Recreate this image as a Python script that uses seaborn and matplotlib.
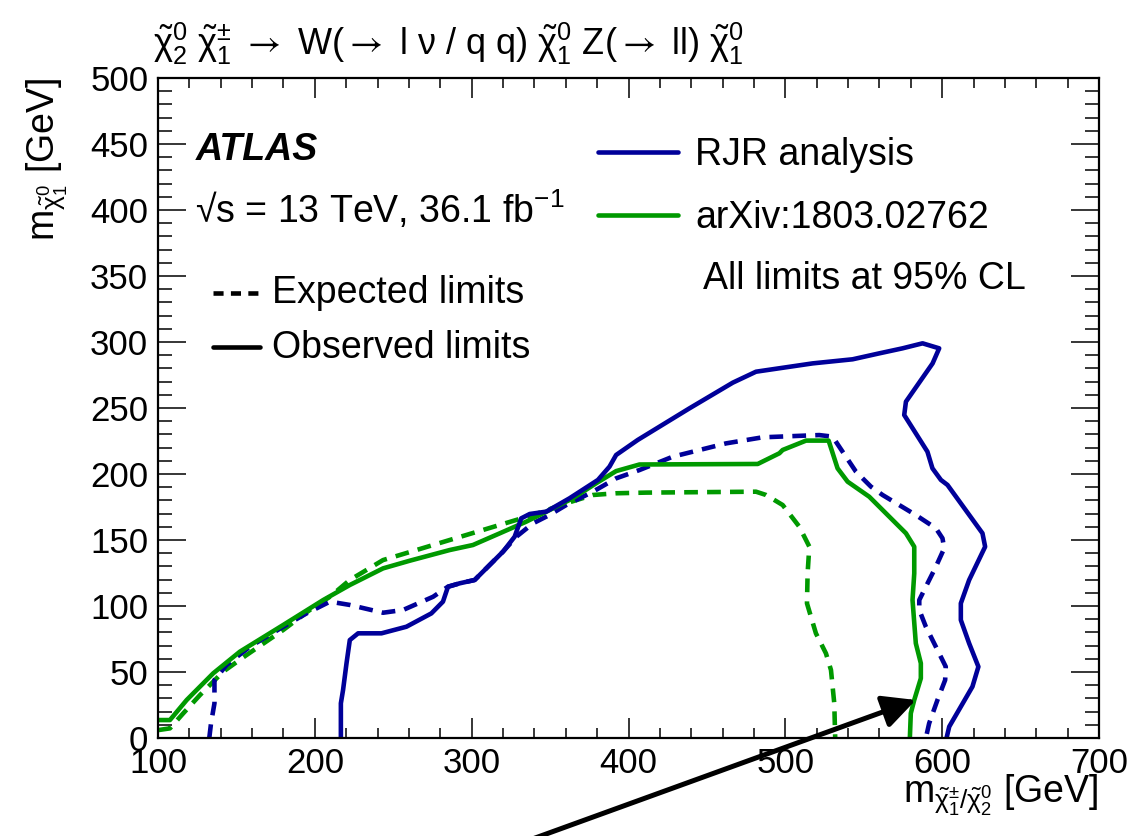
import matplotlib
matplotlib.use("Agg")
import matplotlib.pyplot as plt
from matplotlib.lines import Line2D
from matplotlib.ticker import MultipleLocator
import seaborn as sns

# ---------------- data ----------------
rjr_obs_x = [216.6, 216.6, 218.0, 220.2, 222.3, 227.6, 242.5, 258.4, 274.3, 281.7, 284.9, 292.4,
             301.9, 309.3, 320.0, 327.4, 331.6, 337.0, 347.6, 362.4, 380.5, 387.9, 392.1, 405.9,
             438.8, 466.5, 481.3, 517.4, 542.9, 559.9, 574.7, 587.5, 598.1, 593.9, 576.9, 575.8,
             590.6, 593.8, 599.2, 603.4, 625.7, 627.4, 617.2, 611.9, 611.9, 617.2, 623.1, 619.3,
             604.5, 602.8]
rjr_obs_y = [0.0, 26.3, 36.4, 56.6, 74.2, 79.3, 79.3, 84.3, 94.4, 103.3, 114.6, 117.2,
             119.7, 128.5, 141.2, 152.5, 166.4, 169.7, 171.5, 181.6, 195.5, 205.6, 214.4, 225.8,
             249.7, 269.2, 277.5, 283.8, 286.9, 291.4, 295.2, 299.0, 295.2, 283.8, 254.8, 244.7,
             216.9, 204.3, 195.5, 191.7, 155.1, 144.9, 119.7, 102.0, 89.4, 71.7, 54.0, 38.9,
             8.6, 0.0]

rjr_exp_x = [132.7, 133.8, 136.0, 136.0, 143.7, 158.6, 179.8, 194.7, 209.6, 222.3, 243.5, 256.3,
             275.4, 281.7, 284.9, 292.4, 301.9, 309.3, 320.0, 328.5, 339.1, 349.7, 360.3, 377.3,
             392.1, 407.0, 428.2, 462.2, 485.5, 521.6, 530.1, 536.5, 545.0, 554.6, 562.0, 572.6,
             583.2, 596.0, 600.2, 601.3, 596.0, 589.6, 585.4, 585.4, 589.6, 597.0, 602.3, 601.9,
             597.0, 591.7, 589.6]
rjr_exp_y = [0.0, 11.1, 26.3, 43.9, 55.3, 69.2, 84.3, 94.4, 103.3, 100.8, 94.9, 97.0,
             107.0, 112.1, 114.6, 117.2, 119.7, 128.5, 141.2, 152.5, 162.6, 169.0, 176.5, 186.6,
             196.7, 203.0, 213.1, 223.2, 227.8, 229.5, 228.3, 216.9, 201.8, 190.4, 184.1, 176.5,
             168.9, 158.9, 151.3, 143.7, 129.8, 114.6, 104.5, 97.0, 84.3, 66.7, 54.0, 43.9,
             28.8, 11.1, 0.0]

arx_obs_x = [100.2, 107.6, 118.3, 135.2, 152.2, 179.8, 205.3, 222.3, 243.5, 260.5, 286.0, 300.8,
             317.8, 334.8, 349.7, 364.5, 379.4, 392.1, 407.0, 482.4, 496.2, 498.3, 513.2, 527.6,
             533.3, 539.7, 553.5, 576.9, 582.2, 582.2, 581.1, 583.2, 586.4, 586.4, 582.2, 580.0,
             579.4]
arx_obs_y = [13.6, 13.6, 28.8, 49.0, 65.4, 85.6, 104.5, 115.9, 128.5, 134.3, 142.4, 146.2,
             155.0, 163.9, 172.7, 181.6, 193.0, 202.2, 207.2, 207.6, 215.7, 218.2, 225.3, 225.3,
             204.3, 194.2, 182.8, 155.1, 144.9, 124.7, 104.5, 71.7, 56.6, 45.2, 28.8, 18.7,
             0.0]

arx_exp_x = [100.2, 107.6, 116.1, 126.8, 141.6, 156.5, 179.8, 196.8, 209.6, 222.3, 243.5, 264.8,
             296.6, 328.5, 339.1, 360.3, 377.3, 392.1, 411.3, 481.3, 487.7, 498.3, 508.9, 515.3,
             514.2, 513.8, 519.5, 525.9, 529.1, 531.2, 531.8]
arx_exp_y = [6.0, 7.3, 18.7, 32.6, 50.3, 62.9, 81.8, 97.0, 107.0, 119.7, 134.8, 142.4,
             153.8, 165.2, 168.9, 177.8, 184.1, 185.4, 185.9, 186.6, 184.1, 176.5, 160.1, 145.0,
             124.7, 102.0, 79.3, 64.1, 51.5, 26.3, 0.0]

arrow_tip = (583.2, 28.8)
arrow_tail = (336.9, -77.3)

x_ticks = [100, 200, 300, 400, 500, 600, 700]
y_ticks = [0, 50, 100, 150, 200, 250, 300, 350, 400, 450, 500]

# ---------------- style ----------------
sns.set_style("ticks")
plt.rcParams["font.family"] = ["Liberation Sans", "DejaVu Sans"]
plt.rcParams["mathtext.fontset"] = "custom"
plt.rcParams["mathtext.rm"] = "Liberation Sans"
plt.rcParams["mathtext.it"] = "Liberation Sans"
plt.rcParams["mathtext.bf"] = "Liberation Sans:bold"
plt.rcParams["mathtext.sf"] = "STIXGeneral"
for k in ["text.color", "axes.labelcolor", "xtick.color", "ytick.color", "axes.edgecolor"]:
    plt.rcParams[k] = "black"

W, H = 1148, 836
fig = plt.figure(figsize=(W / 100, H / 100), dpi=100)
ax = fig.add_axes([158 / W, 98 / H, 941 / W, 660 / H])

BLUE = "#000099"
GREEN = "#009900"
LW = 3.3
DASH = (0, (3, 2))

curves = [
    (arx_exp_x, arx_exp_y, GREEN, DASH),
    (rjr_exp_x, rjr_exp_y, BLUE, DASH),
    (arx_obs_x, arx_obs_y, GREEN, "-"),
    (rjr_obs_x, rjr_obs_y, BLUE, "-"),
]
for xs, ys, col, ls in curves:
    sns.lineplot(x=xs, y=ys, sort=False, estimator=None, color=col,
                 linewidth=LW, linestyle=ls, ax=ax)

ax.set_xlim(100, 700)
ax.set_ylim(0, 500)
ax.set_xticks(x_ticks)
ax.set_yticks(y_ticks)
ax.xaxis.set_minor_locator(MultipleLocator(20))
ax.yaxis.set_minor_locator(MultipleLocator(10))
ax.tick_params(axis="x", which="major", direction="in", length=14.4, width=1.1,
               top=True, bottom=True, labelsize=25, pad=6.5, colors="black")
ax.tick_params(axis="x", which="minor", direction="in", length=7.2, width=1.1,
               top=True, bottom=True)
ax.tick_params(axis="y", which="major", direction="in", length=20, width=1.1,
               left=True, right=True, labelsize=25, pad=7, colors="black")
ax.tick_params(axis="y", which="minor", direction="in", length=10, width=1.1,
               left=True, right=True)
for s in ax.spines.values():
    s.set_linewidth(1.6)
    s.set_color("black")
    s.set_visible(True)
ax.set_xlabel("")
ax.set_ylabel("")

# arrow
ax.annotate("", xy=arrow_tip, xytext=arrow_tail, annotation_clip=False,
            arrowprops=dict(arrowstyle="-|>,head_length=0.5,head_width=0.25",
                            mutation_scale=40, lw=3.6, color="black",
                            shrinkA=0, shrinkB=0, clip_on=False), zorder=10)

# titles / labels
FS = 27
CHI = r"\tilde{\mathrm{\chi}}"
ARR = r"$\mathsf{\rightarrow}$"
fig.text(153 / W, 1 - 55 / H,
         rf"${CHI}^{{0}}_{{2}}$ ${CHI}^{{\pm}}_{{1}}$ {ARR} W({ARR} l ν / q q) "
         rf"${CHI}^{{0}}_{{1}}$ Z({ARR} ll) ${CHI}^{{0}}_{{1}}$",
         fontsize=26, ha="left", va="baseline")
fig.text(1099 / W, 1 - 802 / H, rf"m$_{{{CHI}^{{\pm}}_{{1}}/{CHI}^{{0}}_{{2}}}}$ [GeV]",
         fontsize=FS, ha="right", va="baseline")
fig.text(24 / W, 1 - 78 / H, rf"m$_{{{CHI}^{{0}}_{{1}}}}$ [GeV]",
         fontsize=FS, rotation=90, ha="left", va="top")

# in-plot labels
fig.text(196 / W, 1 - 160 / H, "ATLAS", fontsize=FS, fontweight="bold", fontstyle="italic")
fig.text(195 / W, 1 - 223 / H, r"√s = 13 TeV, 36.1 fb$^{\mathrm{-1}}$", fontsize=FS)

def key(x0, x1, y, color, ls):
    fig.add_artist(Line2D([x0 / W, x1 / W], [1 - y / H, 1 - y / H], transform=fig.transFigure,
                          color=color, lw=LW, linestyle=ls))

key(213, 258, 293, "black", (0, (2.2, 1.6)))
fig.text(272 / W, 1 - 303 / H, "Expected limits", fontsize=FS)
key(213, 260, 347, "black", "-")
fig.text(272 / W, 1 - 358 / H, "Observed limits", fontsize=FS)

key(598, 678, 152, BLUE, "-")
fig.text(695 / W, 1 - 165 / H, "RJR analysis", fontsize=FS)
key(598, 678, 215, GREEN, "-")
fig.text(695 / W, 1 - 228 / H, "arXiv:1803.02762", fontsize=FS)
fig.text(703 / W, 1 - 289 / H, "All limits at 95% CL", fontsize=FS)

fig.savefig("out.png", dpi=100)
